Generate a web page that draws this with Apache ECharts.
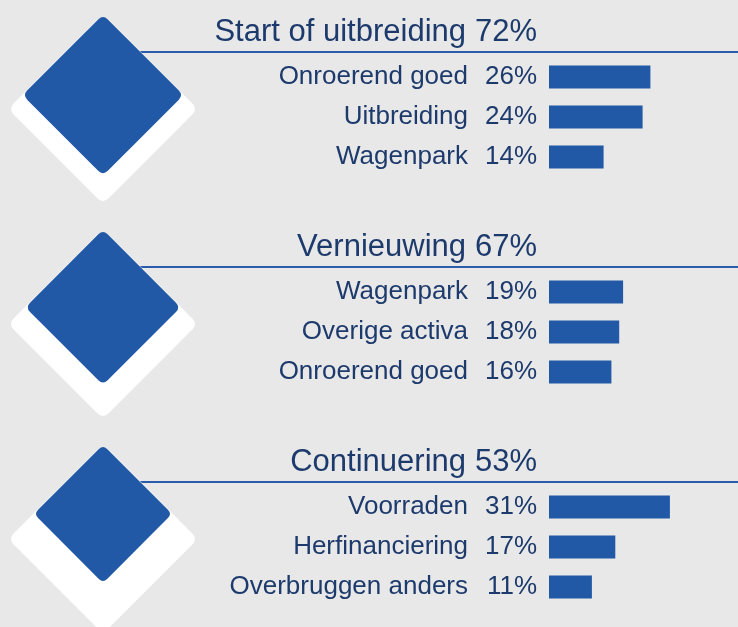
<!DOCTYPE html>
<html>
<head>
<meta charset="utf-8">
<script src="https://cdn.jsdelivr.net/npm/echarts@6/dist/echarts.min.js"></script>
<style>
  html, body { margin: 0; padding: 0; background: #e8e8e8; }
  #chart { width: 738px; height: 627px; }
</style>
</head>
<body>
<div id="chart"></div>
<script>
// hoofdgroepen
const groups = ["Start of uitbreiding", "Vernieuwing", "Continuering"];
const groupPct = [72, 67, 53];

// onderdelen per groep
const items1 = ["Onroerend goed", "Uitbreiding", "Wagenpark"];
const pct1 = [26, 24, 14];
const items2 = ["Wagenpark", "Overige activa", "Onroerend goed"];
const pct2 = [19, 18, 16];
const items3 = ["Voorraden", "Herfinanciering", "Overbruggen anders"];
const pct3 = [31, 17, 11];

const itemLists = [items1, items2, items3];
const pctLists = [pct1, pct2, pct3];

const FONT = "'Liberation Sans', Arial, sans-serif";
const TEXT = "#1d3a6d";
const BLUE = "#2159a6";
const LINE = "#2b5cab";

const H = 627;
const BAND = 215;      // hoogte per groep
const FIRST = 109;     // midden eerste groep
const SHADOW = 184;    // witte ruit
const K = 18.4;        // ruit-grootte ~ sqrt(pct)

const diamond =
  "path://M47,3 Q50,0 53,3 L97,47 Q100,50 97,53 L53,97 Q50,100 47,97 L3,53 Q0,50 3,47 Z";

const chart = echarts.init(document.getElementById("chart"), null, { renderer: "canvas" });

const grids = [];
const xAxes = [];
const yAxes = [];
const series = [];

// staafjes per groep
itemLists.forEach((items, g) => {
  const lineY = FIRST + BAND * g - 57;
  grids.push({ left: 549, width: 156, top: lineY + 5, height: 120 });
  xAxes.push({ gridIndex: g, type: "value", min: 0, max: 40, show: false });
  yAxes.push({
    gridIndex: g,
    type: "category",
    inverse: true,
    data: items,
    axisLine: { show: false },
    axisTick: { show: false },
    axisLabel: {
      margin: 12,
      formatter: (v, i) => `{n|${v}}{p|${pctLists[g][i]}%}`,
      rich: {
        n: { fontFamily: FONT, fontSize: 26, color: TEXT },
        p: { fontFamily: FONT, fontSize: 26, color: TEXT, width: 69, align: "right" }
      }
    }
  });
  series.push({
    type: "bar",
    xAxisIndex: g,
    yAxisIndex: g,
    data: pctLists[g],
    barWidth: 23,
    itemStyle: { color: BLUE },
    silent: true
  });
});

// overlay voor ruiten en koppen (1 eenheid = 1 groep)
grids.push({ left: 0, width: 206, top: 0, height: H });
xAxes.push({ gridIndex: 3, type: "value", min: -1, max: 1, show: false });
yAxes.push({
  gridIndex: 3,
  type: "value",
  inverse: true,
  min: -FIRST / BAND,
  max: (H - FIRST) / BAND,
  show: false
});

series.push({
  type: "custom",
  xAxisIndex: 3,
  yAxisIndex: 3,
  z: 1,
  silent: true,
  data: groups.map((g, i) => [0, i, groupPct[i]]),
  renderItem: (params, api) => {
    const i = api.value(1);
    const pt = api.coord([0, i]);
    const y = pt[1] - 57;
    return {
      type: "group",
      children: [
        {
          type: "line",
          shape: { x1: pt[0], y1: y, x2: api.getWidth(), y2: y },
          style: { stroke: LINE, lineWidth: 2 }
        },
        {
          type: "text",
          style: {
            x: 537,
            y: y - 20,
            align: "right",
            verticalAlign: "middle",
            text: `{n|${groups[i]}}{p|${api.value(2)}%}`,
            rich: {
              n: { fontFamily: FONT, fontSize: 31, fill: TEXT },
              p: { fontFamily: FONT, fontSize: 31, fill: TEXT, width: 71, align: "right" }
            }
          }
        }
      ]
    };
  }
});

series.push({
  type: "scatter",
  xAxisIndex: 3,
  yAxisIndex: 3,
  z: 2,
  silent: true,
  symbol: diamond,
  symbolSize: SHADOW,
  itemStyle: { color: "#ffffff", opacity: 1 },
  data: groups.map((g, i) => [0, i])
});

series.push({
  type: "scatter",
  xAxisIndex: 3,
  yAxisIndex: 3,
  z: 3,
  silent: true,
  symbol: diamond,
  itemStyle: { color: BLUE, opacity: 1 },
  data: groupPct.map((p, i) => {
    const size = K * Math.sqrt(p);
    return { value: [0, i, p], symbolSize: size, symbolOffset: [0, (size - SHADOW) / 2] };
  })
});

chart.setOption({
  backgroundColor: "#e8e8e8",
  animation: false,
  grid: grids,
  xAxis: xAxes,
  yAxis: yAxes,
  series
});
</script>
</body>
</html>
